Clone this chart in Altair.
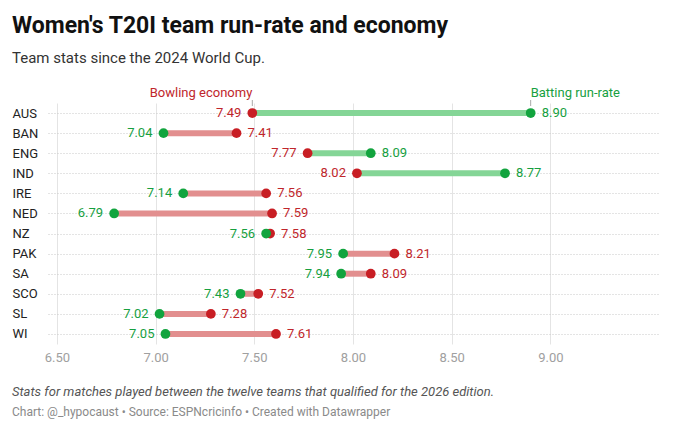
import altair as alt
import pandas as pd

teams = ["AUS", "BAN", "ENG", "IND", "IRE", "NED", "NZ", "PAK", "SA", "SCO", "SL", "WI"]
batting = [8.90, 7.04, 8.09, 8.77, 7.14, 6.79, 7.56, 7.95, 7.94, 7.43, 7.02, 7.05]
bowling = [7.49, 7.41, 7.77, 8.02, 7.56, 7.59, 7.58, 8.21, 8.09, 7.52, 7.28, 7.61]
x_ticks = [6.5, 7.0, 7.5, 8.0, 8.5, 9.0]

title = "Women's T20I team run-rate and economy"
subtitle = "Team stats since the 2024 World Cup."
note = "Stats for matches played between the twelve teams that qualified for the 2026 edition."
source = "Chart: @_hypocaust • Source: ESPNcricinfo • Created with Datawrapper"

GREEN = "#12a43e"
RED = "#c81e24"
GREEN_BAR = "#84d596"
RED_BAR = "#e28f8f"
GREEN_TXT = "#17a03f"
RED_TXT = "#c0262b"

W, H = 610, 241

bars = pd.DataFrame({
    "team": teams,
    "lo": [min(a, b) for a, b in zip(batting, bowling)],
    "hi": [max(a, b) for a, b in zip(batting, bowling)],
    "bar": [GREEN_BAR if a > b else RED_BAR for a, b in zip(batting, bowling)],
})

rows = []
for metric, vals, dot, txt in [("Bowling economy", bowling, RED, RED_TXT),
                               ("Batting run-rate", batting, GREEN, GREEN_TXT)]:
    for t, v, a, b in zip(teams, vals, batting, bowling):
        rows.append({"team": t, "metric": metric, "value": v, "dot": dot, "txt": txt,
                     "side": "L" if v == min(a, b) else "R",
                     "label": f"{v:.2f}"})
dots = pd.DataFrame(rows)

x = alt.X("lo:Q", scale=alt.Scale(domain=[6.455, 9.545], nice=False, zero=False),
          axis=alt.Axis(values=x_ticks, format=".2f", title=None, domain=False, ticks=False,
                        tickSize=0, grid=True, gridColor="#e4e4e4", labelColor="#a0a0a0",
                        labelFontSize=13, labelPadding=7))
y = alt.Y("team:N", sort=teams, scale=alt.Scale(type="point", padding=0.5),
          axis=alt.Axis(title=None, domain=False, ticks=False, tickSize=0, labelAlign="left",
                        labelPadding=36, labelFontSize=13, labelColor="#222",
                        grid=True, gridDash=[1, 2], gridColor="#c8c8c8"))

bar_layer = alt.Chart(bars).mark_rule(strokeWidth=6).encode(
    x=x, x2="hi:Q", y=y, color=alt.Color("bar:N", scale=None)
)

dot_layer = alt.Chart(dots).mark_circle(size=95, opacity=1).encode(
    x="value:Q", y=alt.Y("team:N", sort=teams), color=alt.Color("dot:N", scale=None)
)

left_lbl = alt.Chart(dots).transform_filter(alt.datum.side == "L").mark_text(
    align="right", baseline="middle", dx=-11, fontSize=13
).encode(x="value:Q", y=alt.Y("team:N", sort=teams), text="label:N",
         color=alt.Color("txt:N", scale=None))

right_lbl = alt.Chart(dots).transform_filter(alt.datum.side == "R").mark_text(
    align="left", baseline="middle", dx=11, fontSize=13
).encode(x="value:Q", y=alt.Y("team:N", sort=teams), text="label:N",
         color=alt.Color("txt:N", scale=None))

aus = dots[dots["team"] == "AUS"]
bowl_key = alt.Chart(aus[aus["metric"] == "Bowling economy"]).mark_text(
    align="right", baseline="alphabetic", fontSize=13, color=RED_TXT
).encode(x="value:Q", y=alt.value(-6), text="metric:N")
bat_key = alt.Chart(aus[aus["metric"] == "Batting run-rate"]).mark_text(
    align="left", baseline="alphabetic", fontSize=13, color=GREEN_TXT
).encode(x="value:Q", y=alt.value(-6), text="metric:N")
key_ticks = alt.Chart(aus).mark_rule(color="#aaaaaa", strokeWidth=1).encode(
    x="value:Q", y=alt.value(-3), y2=alt.value(3)
)


def text_line(s, y_pos, size, color, weight="normal", style="normal"):
    return alt.Chart(pd.DataFrame({"t": [s]})).mark_text(
        align="left", baseline="alphabetic", fontSize=size, color=color,
        fontWeight=weight, fontStyle=style
    ).encode(x=alt.value(-36), y=alt.value(y_pos), text="t:N")


chart = alt.layer(
    bar_layer, dot_layer, left_lbl, right_lbl, key_ticks, bowl_key, bat_key,
    text_line(title, -70, 23, "#111111", weight="bold"),
    text_line(subtitle, -40, 15, "#333333"),
    text_line(note, 293, 13, "#555555", style="italic"),
    text_line(source, 313, 12, "#8a8a8a"),
).properties(
    width=W, height=H,
    autosize=alt.AutoSizeParams(type="none"),
    padding={"left": 40, "top": 95, "right": 14, "bottom": 79},
).configure(font="Roboto", background="white").configure_view(stroke=None)

chart.save("out.html", embed_options={"renderer": "svg", "actions": False})
